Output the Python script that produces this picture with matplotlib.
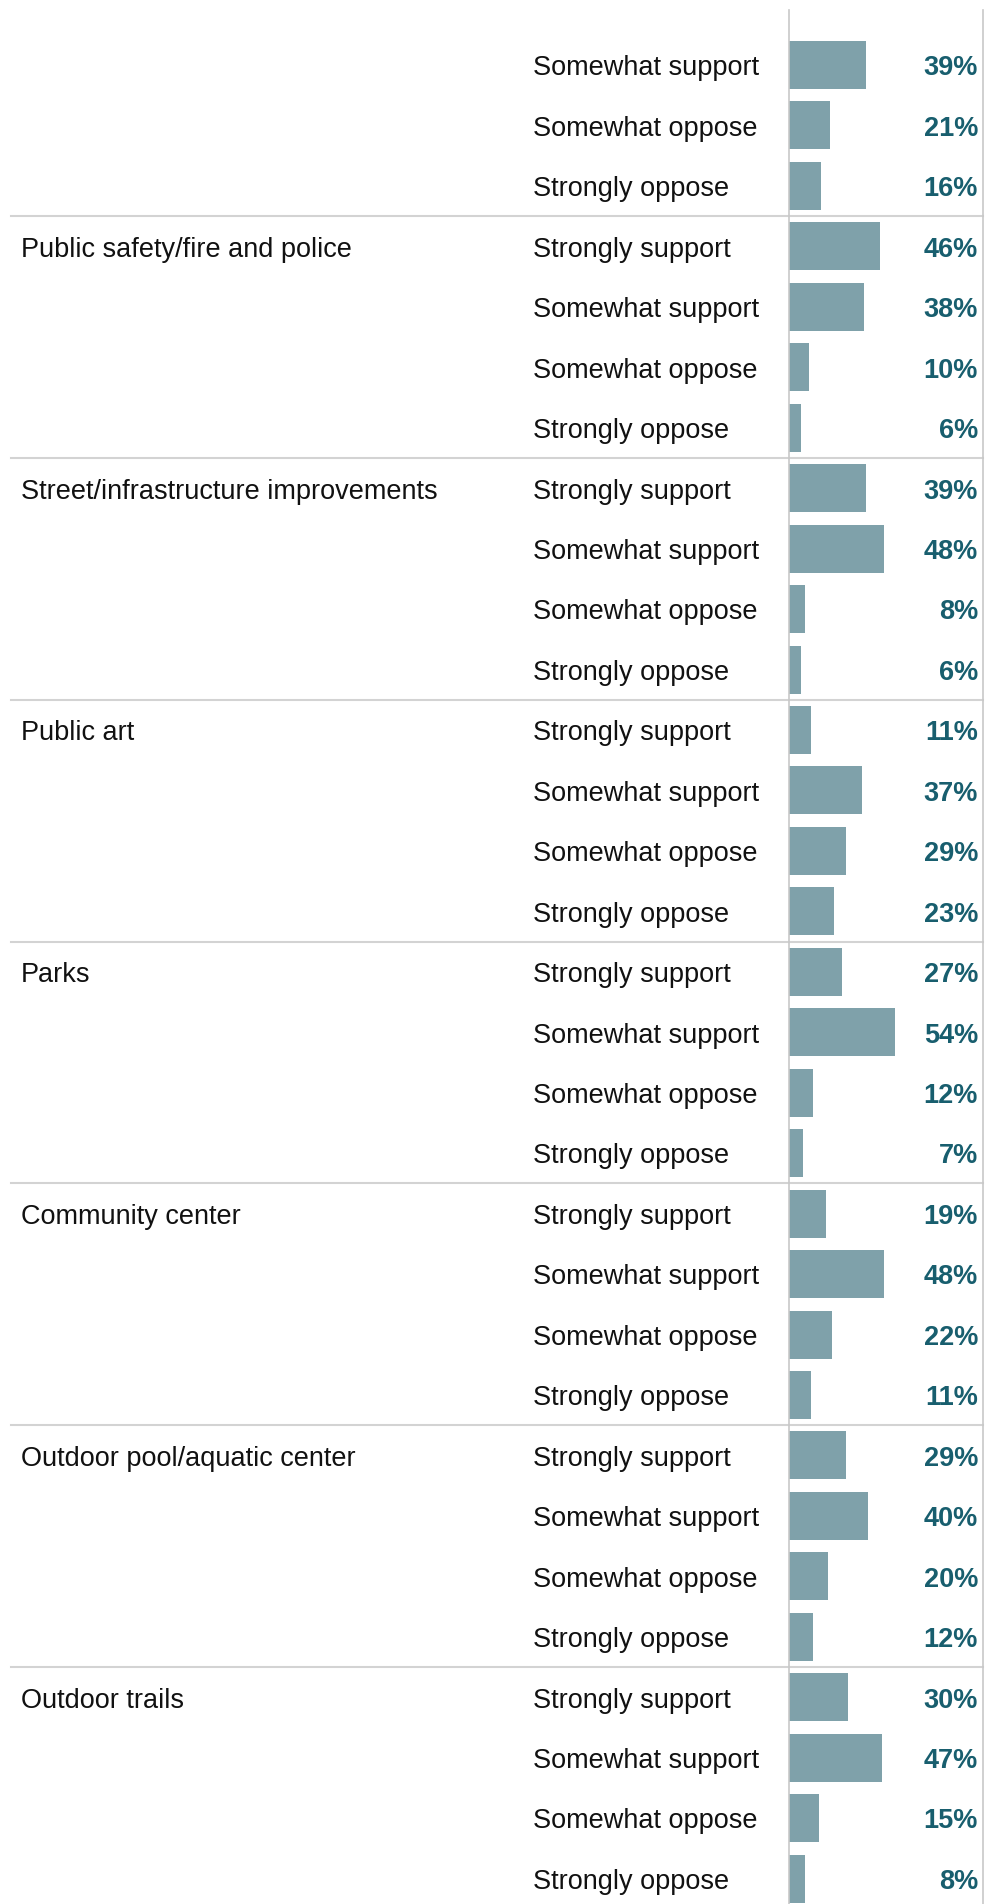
import numpy as np
import matplotlib.pyplot as plt
from matplotlib.transforms import blended_transform_factory

plt.rcParams['font.family'] = ['Liberation Sans', 'DejaVu Sans']

# data: groups (first group is cut off at the top, its label is not visible)
groups = ["",
          "Public safety/fire and police",
          "Street/infrastructure improvements",
          "Public art",
          "Parks",
          "Community center",
          "Outdoor pool/aquatic center",
          "Outdoor trails"]
answers = ["Strongly support", "Somewhat support", "Somewhat oppose", "Strongly oppose"]
first_answers = answers[1:]

values = [[39, 21, 16],
          [46, 38, 10, 6],
          [39, 48, 8, 6],
          [11, 37, 29, 23],
          [27, 54, 12, 7],
          [19, 48, 22, 11],
          [29, 40, 20, 12],
          [30, 47, 15, 8]]

bar_col = '#7fa1aa'
txt_col = '#185e6e'
line_col = '#d3d3d3'

W, H = 991, 1904
fig = plt.figure(figsize=(W/100, H/100), dpi=100)
ax = fig.add_axes([789/W, 0, (983-789)/W, (H-10)/H])

rows_lab = []
rows_val = []
group_first_row = []
sep_rows = []
r = 0
for g, vals in zip(groups, values):
    labs = first_answers if len(vals) == 3 else answers
    group_first_row.append(r)
    for l, v in zip(labs, vals):
        rows_lab.append(l)
        rows_val.append(v)
        r += 1
    sep_rows.append(r - 0.5)
sep_rows = sep_rows[:-1]

y = np.arange(len(rows_val))
ax.barh(y, rows_val, height=0.794, color=bar_col, align='center')
ax.set_xlim(0, 98.5)
ax.set_ylim(len(rows_val) - 1 + 0.42, -0.91)

ax.set_xticks([])
ax.set_yticks([])
for s in ['top', 'bottom']:
    ax.spines[s].set_visible(False)
for s in ['left', 'right']:
    ax.spines[s].set_color('#c8c8c8')
    ax.spines[s].set_linewidth(1.2)

dy = 0.055  # text sits a little lower than bar centre
tr = blended_transform_factory(fig.transFigure, ax.transData)
for i, (l, v) in enumerate(zip(rows_lab, rows_val)):
    ax.text(533/W, i + dy, l, transform=tr, ha='left', va='center', fontsize=19.5, color='#111111')
    ax.text(978/W, i + dy, f"{v}%", transform=tr, ha='right', va='center', fontsize=19.5,
            fontweight='bold', color=txt_col)

for g, fr in zip(groups, group_first_row):
    if g:
        ax.text(21/W, fr + dy, g, transform=tr, ha='left', va='center', fontsize=19.5, color='#111111')

for s in sep_rows:
    ax.plot([11/W, 983/W], [s, s], transform=tr, color=line_col, lw=1.5, clip_on=False)

fig.savefig('out.png', dpi=100)
